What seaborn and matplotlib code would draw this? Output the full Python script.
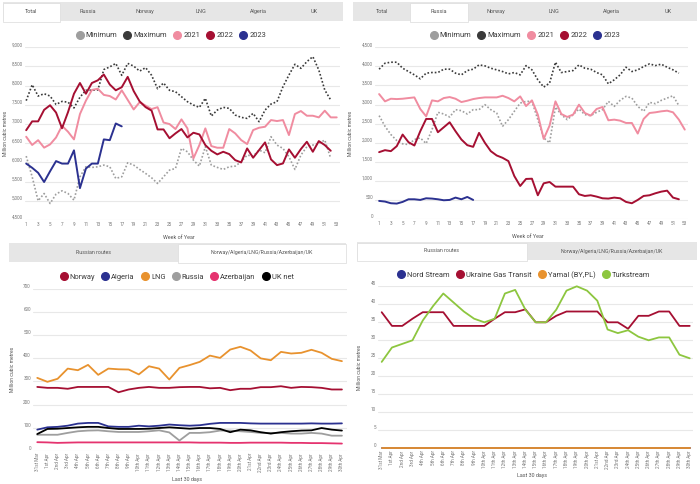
import numpy as np
import pandas as pd
import matplotlib
matplotlib.use('Agg')
import matplotlib.pyplot as plt
from matplotlib.lines import Line2D
from matplotlib.patches import Rectangle
import seaborn as sns

# ---- data: weekly totals (Total tab) ----
weeks = list(range(1, 54))
total_min = [6165, 5626, 5000, 5191, 4930, 5174, 5261, 5191, 5017, 5626, 5887, 5870, 5887,
             5930, 5887, 5583, 5626, 5991, 5930, 5817, 5713, 5600, 5452, 5626, 5800,
             5843, 6365, 6278, 6060, 5904, 6409, 5930, 5870, 5817, 5887, 5904, 6017, 6191,
             6165, 6322, 6252, 6670, 6452, 6365, 6148, 5817, 6191, 6409, 6452, 6496, 6583, 6104]
total_max = [7610, 8025, 7730, 7790, 7730, 7510, 7590, 7570, 7420, 7700, 7880, 7880, 7890,
             8420, 8490, 8580, 8270, 8580, 8510, 8380, 8470, 8270, 7920, 8070, 7880,
             7843, 7713, 7583, 7496, 7435, 7670, 7209, 7365, 7435, 7409, 7235, 7174, 7148,
             7278, 7061, 7365, 7522, 7583, 7974, 8278, 8557, 8452, 8626, 8757, 8409, 7887, 7626]
total_2021 = [6670, 6455, 6580, 6385, 6470, 6650, 6955, 6800, 6600, 7260, 7610, 7890, 7920,
              7760, 7730, 7640, 7880, 7630, 7380, 7570, 7480, 7390, 7440, 7040, 7000,
              6870, 7122, 6887, 6104, 6452, 6887, 6426, 6383, 6383, 6870, 6757, 6583, 6478,
              6843, 6904, 6930, 7104, 7078, 7104, 6713, 7261, 7339, 7217, 7217, 7174, 7348,
              7174, 7174]
total_2022 = [6840, 7070, 7070, 7370, 7490, 7300, 6890, 7310, 7790, 8070, 7790, 8070, 8140,
              8290, 8030, 7880, 7960, 8230, 7860, 7590, 7440, 7350, 6860, 6860, 6630,
              6757, 6870, 6652, 6774, 6730, 6452, 6304, 6209, 6278, 6217, 6060, 6000, 6365,
              6122, 6322, 6522, 6078, 5930, 5974, 6339, 6122, 6348, 6539, 6278, 6556, 6452, 6304]
total_2023 = [5970, 5860, 5730, 5490, 5770, 6035, 5970, 5970, 6315, 5330, 5840, 5970, 5970,
              6600, 6580, 7015, 6940]

# ---- data: weekly Russia ----
rus_min = [2709, 2430, 2213, 2057, 1970, 1952, 2083, 2126, 1978, 2343, 2796, 2752, 2674,
           2865, 2839, 2752, 2865, 2865, 2996, 2865, 2778, 2430, 2604, 2822, 3039,
           3083, 3083, 2604, 2126, 1996, 2935, 2735, 2604, 2735, 2883, 2735, 2709, 2796,
           2865, 3083, 2952, 3109, 3213, 3170, 2952, 2822, 3057, 3022, 3109, 3170, 3230, 2970]
rus_max = [3926, 4083, 4109, 4109, 3952, 3865, 3778, 3674, 3822, 3839, 3839, 3926, 3926,
           3822, 3778, 3891, 3926, 4039, 4013, 3952, 3909, 3865, 3804, 3839, 3778,
           4020, 3909, 3648, 3457, 3561, 4109, 3839, 3865, 3891, 4039, 3952, 3926, 3839,
           3778, 3543, 3648, 3778, 3978, 3865, 3909, 3996, 4065, 4022, 4057, 3978, 3909, 3822]
rus_2021 = [3274, 3083, 3152, 3143, 3152, 3170, 3187, 2883, 2691, 3109, 3083, 3170, 3196,
            3152, 3065, 3100, 3143, 3170, 3187, 3187, 3187, 3230, 3170, 3083, 3213,
            2960, 3109, 2735, 2100, 2448, 3083, 2752, 2674, 2735, 2996, 2778, 2709, 2883,
            2935, 2587, 2604, 2578, 2517, 2517, 2239, 2622, 2778, 2796, 2822, 2839, 2796,
            2604, 2343]
rus_2022 = [1752, 1804, 1778, 1909, 2213, 2013, 1926, 2300, 2622, 2622, 2274, 2404, 2535,
            2300, 2083, 1935, 1891, 2257, 1996, 1778, 1665, 1604, 1517, 1126, 865,
            1050, 1056, 622, 935, 970, 848, 848, 848, 848, 648, 604, 622, 587, 543, 535,
            561, 543, 448, 413, 500, 604, 622, 674, 717, 743, 561, 517]
rus_2023 = [474, 457, 413, 404, 448, 517, 517, 500, 543, 535, 517, 491, 500, 561, 517, 578, 500]

# ---- data: last 30 days ----
days = ['31st Mar', '1st Apr', '2nd Apr', '3rd Apr', '4th Apr', '5th Apr', '6th Apr', '7th Apr',
        '8th Apr', '9th Apr', '10th Apr', '11th Apr', '12th Apr', '13th Apr', '14th Apr',
        '15th Apr', '16th Apr', '17th Apr', '18th Apr', '19th Apr', '20th Apr', '21st Apr',
        '22nd Apr', '23rd Apr', '24th Apr', '25th Apr', '26th Apr', '27th Apr', '28th Apr',
        '29th Apr', '30th Apr']
norway = [276, 272, 272, 268, 276, 276, 276, 276, 253, 265, 272, 276, 272, 272, 275, 276,
          276, 270, 272, 262, 268, 268, 275, 275, 279, 272, 276, 275, 272, 265, 265]
algeria = [92, 102, 104, 109, 118, 121, 121, 106, 104, 104, 109, 106, 109, 114, 111, 109,
           111, 117, 121, 121, 121, 119, 118, 118, 118, 118, 118, 119, 118, 118, 119]
lng = [315, 298, 311, 355, 348, 371, 328, 355, 352, 351, 330, 365, 355, 308, 358, 370,
       384, 411, 401, 437, 449, 433, 399, 391, 427, 420, 423, 436, 423, 397, 387]
russia = [70, 70, 70, 78, 85, 88, 89, 85, 82, 82, 82, 85, 89, 80, 45, 78, 78, 81, 88, 88,
          85, 82, 78, 78, 78, 75, 75, 78, 75, 66, 66]
azerbaijan = [38, 37, 35, 36, 37, 37, 37, 37, 37, 37, 37, 37, 37, 37, 37, 37, 36, 36, 36,
              35, 35, 36, 36, 36, 36, 35, 35, 34, 34, 33, 32]
uk_net = [73, 95, 96, 99, 102, 104, 104, 99, 95, 95, 95, 96, 99, 102, 99, 96, 99, 99, 95,
          81, 92, 89, 81, 75, 81, 85, 88, 89, 99, 92, 88]

nord_stream = [0] * 31
ukraine = [37.8, 34, 34, 36, 37.8, 37.8, 37.8, 34, 34, 34, 34, 36, 37.8, 37.8, 38.6, 35,
           35, 36.8, 38, 38, 38, 38, 35, 35, 33.2, 36.8, 36.8, 38, 38, 34, 34]
yamal = [0] * 31
turkstream = [24, 28, 29, 30, 35.5, 39.5, 43, 40.5, 38, 36, 35, 36, 43, 44, 38.5, 35, 35,
              38.5, 43.8, 45, 43.8, 41, 33, 32, 32.8, 31, 30, 30.8, 30.8, 26, 25]

# ---- colours ----
C_MIN, C_MAX = '#9e9e9e', '#3a3a3a'
C_21, C_22, C_23 = '#f08ca0', '#a50f32', '#2b3190'
C_LNG, C_AZ, C_GREEN = '#e8922e', '#e5336f', '#8dc63f'

sns.set_theme(style='white')
plt.rcParams['font.family'] = ['Roboto', 'DejaVu Sans']

W, H = 700, 484
fig = plt.figure(figsize=(7, 4.84), dpi=100)


def px_axes(l, t, r, b):
    return fig.add_axes([l / W, 1 - b / H, (r - l) / W, (b - t) / H])


def rect(x0, y0, x1, y1, fc, ec='none'):
    fig.patches.append(Rectangle((x0 / W, 1 - y1 / H), (x1 - x0) / W, (y1 - y0) / H,
                                 transform=fig.transFigure, facecolor=fc,
                                 edgecolor=ec, lw=0.6))


def tab_bar(x0, x1, y0, y1, labels, active, size=4):
    rect(x0, y0, x1, y1, '#e6e6e6')
    tw = (x1 - x0) / len(labels)
    for i, lab in enumerate(labels):
        a = x0 + i * tw
        if i == active:
            rect(a, y0 + 0.8, a + tw, y1 + 0.5, 'white', '#e0e0e0')
        fig.text((a + tw / 2) / W, 1 - ((y0 + y1) / 2) / H, lab, ha='center',
                 va='center', fontsize=size, color='#555555')


def legend(names, colors, cx, cy):
    handles = [Line2D([], [], marker='o', ls='none', markersize=5.5,
                      markerfacecolor=c, markeredgecolor=c) for c in colors]
    fig.legend(handles, names, loc='center', bbox_to_anchor=(cx / W, 1 - cy / H),
               ncol=len(names), frameon=False, fontsize=5.4, handletextpad=0.35,
               columnspacing=0.9, handlelength=0.9, labelcolor='#3a3a3a')


def style(ax, yticks, fmt, ylab_x, xlabel, xlab_y):
    ax.set_yticks(yticks)
    ax.set_yticklabels([fmt(v) for v in yticks])
    ax.set_ylim(yticks[0], yticks[-1])
    ax.grid(axis='y', color='#e8e8e8', lw=0.8)
    ax.grid(axis='x', visible=False)
    for s in ax.spines.values():
        s.set_visible(False)
    ax.tick_params(length=0, labelsize=3.3, labelcolor='#777777', pad=1.5)
    plt.setp(ax.get_yticklabels(), va='bottom')
    ax.set_ylabel('Million cubic metres', fontsize=3.6, color='#555555')
    ax.yaxis.set_label_coords(ylab_x, 0.5)
    ax.set_xlabel(xlabel, fontsize=3.9, color='#555555')
    ax.xaxis.set_label_coords(0.49, xlab_y)


def weekly(ax, mn, mx, s21, s22, s23):
    dot = (0, (1, 1.2))
    sns.lineplot(x=weeks[:len(mn)], y=mn, ax=ax, color=C_MIN, lw=1.2, linestyle=dot, legend=False)
    sns.lineplot(x=weeks[:len(mx)], y=mx, ax=ax, color=C_MAX, lw=1.2, linestyle=dot, legend=False)
    sns.lineplot(x=weeks[:len(s21)], y=s21, ax=ax, color=C_21, lw=1.4, legend=False)
    sns.lineplot(x=weeks[:len(s22)], y=s22, ax=ax, color=C_22, lw=1.4, legend=False)
    sns.lineplot(x=weeks[:len(s23)], y=s23, ax=ax, color=C_23, lw=1.4, legend=False)
    ax.set_xticks(list(range(1, 54, 2)))
    ax.set_xlim(0.8, 53.55)


week_names = ['Minimum', 'Maximum', '2021', '2022', '2023']
week_cols = [C_MIN, C_MAX, C_21, C_22, C_23]
tabs_top = ['Total', 'Russia', 'Norway', 'LNG', 'Algeria', 'UK']

# ---- top left: Total ----
tab_bar(3, 343, 2, 21, tabs_top, 0)
legend(week_names, week_cols, 171, 35.7)
ax1 = px_axes(25, 47.3, 340, 220)
weekly(ax1, total_min, total_max, total_2021, total_2022, total_2023)
style(ax1, list(range(4500, 9001, 500)), lambda v: f'{v:,}', -0.054, 'Week of Year', -0.085)

# ---- top right: Russia ----
tab_bar(353, 697, 2, 21, tabs_top, 1)
legend(week_names, week_cols, 525, 35.7)
ax2 = px_axes(375, 47.3, 688, 219)
weekly(ax2, rus_min, rus_max, rus_2021, rus_2022, rus_2023)
ax2.set_xlim(0.3, 53.55)
style(ax2, list(range(0, 4501, 500)), lambda v: f'{v:,}', -0.069, 'Week of Year', -0.085)

# ---- bottom left: Norway/Algeria/LNG/Russia/Azerbaijan/UK ----
tabs_bottom = ['Russian routes', 'Norway/Algeria/LNG/Russia/Azerbaijan/UK']
tab_bar(9, 346, 243, 262, tabs_bottom, 1, size=3.8)
legend(['Norway', 'Algeria', 'LNG', 'Russia', 'Azerbaijan', 'UK net'],
       [C_22, C_23, C_LNG, C_MIN, C_AZ, 'black'], 177, 277.3)
ax3 = px_axes(33, 288.5, 347, 451)
xi = list(range(len(days)))
for vals, col in [(norway, C_22), (algeria, C_23), (lng, C_LNG), (russia, C_MIN),
                  (azerbaijan, C_AZ), (uk_net, 'black')]:
    sns.lineplot(x=xi, y=vals, ax=ax3, color=col, lw=1.3, legend=False)
ax3.set_xticks(xi)
ax3.set_xticklabels(days, rotation=90, fontsize=2.9)
ax3.set_xlim(-0.42, 30.5)
style(ax3, list(range(0, 701, 100)), str, -0.057, 'Last 30 days', -0.16)

# ---- bottom right: Russian routes ----
tab_bar(357, 697, 242, 260, tabs_bottom, 0, size=3.8)
legend(['Nord Stream', 'Ukraine Gas Transit', 'Yamal (BY,PL)', 'Turkstream'],
       [C_23, C_22, C_LNG, C_GREEN], 524, 275)
ax4 = px_axes(378, 286.3, 693, 448.3)
for vals, col in [(nord_stream, C_23), (ukraine, C_22), (turkstream, C_GREEN), (yamal, C_LNG)]:
    sns.lineplot(x=xi, y=vals, ax=ax4, color=col, lw=1.3, legend=False, clip_on=False)
ax4.set_xticks(xi)
ax4.set_xticklabels(days, rotation=90, fontsize=2.9)
ax4.set_xlim(-0.36, 30.32)
style(ax4, list(range(0, 46, 5)), str, -0.052, 'Last 30 days', -0.152)

fig.savefig('out.png', dpi=100, facecolor='white')
